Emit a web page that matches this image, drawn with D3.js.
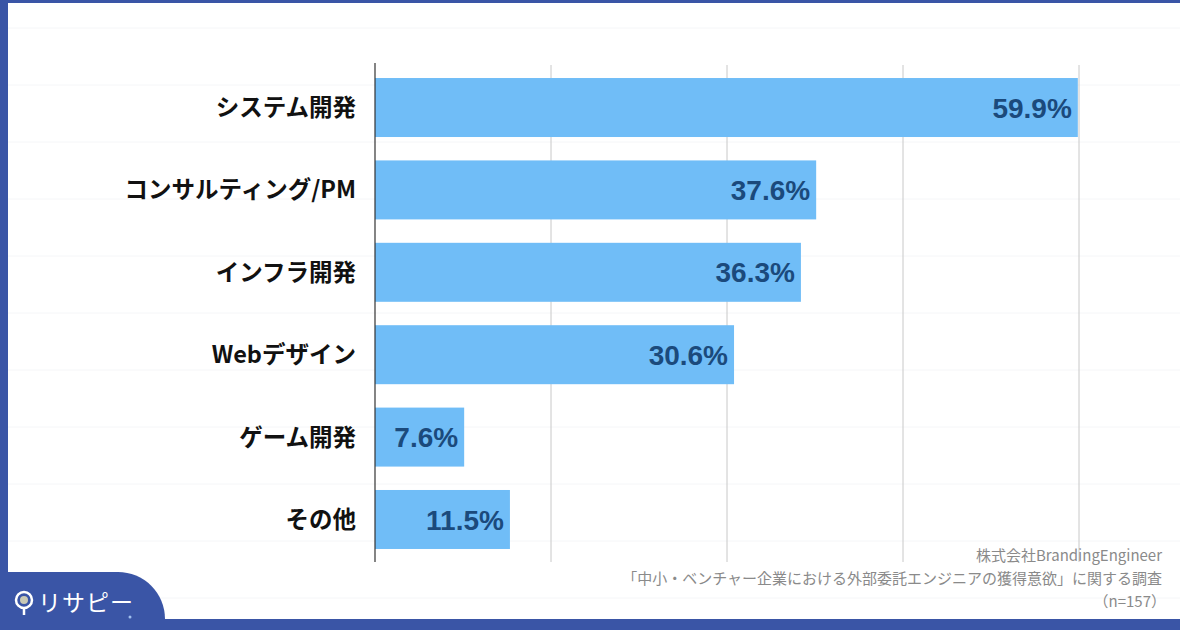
<!DOCTYPE html>
<html><head><meta charset="utf-8">
<script src="https://cdn.jsdelivr.net/npm/d3@7"></script>
<style>html,body{margin:0;padding:0;background:#fff;}svg{display:block;}</style>
</head><body>
<svg id="c" width="1180" height="630"></svg>
<script>
const categories = ["システム開発","コンサルティング/PM","インフラ開発","Webデザイン","ゲーム開発","その他"];
const values = [59.9, 37.6, 36.3, 30.6, 7.6, 11.5];
const ticks = [15, 30, 45, 60];
const sourceLines = ["株式会社BrandingEngineer","「中小・ベンチャー企業における外部委託エンジニアの獲得意欲」に関する調査","（n=157）"];

const svg = d3.select("#c");
const W = 1180, H = 630;
const blue = "#3a55a6";
const jp = "'Noto Sans CJK JP','Noto Sans',sans-serif";

svg.append("rect").attr("width",W).attr("height",H).attr("fill","#fff");

// faint background grid
const bg = svg.append("g").attr("stroke","#f5f6f8").attr("stroke-width",1);
for (let y = 28; y < 620; y += 57) bg.append("line").attr("x1",8).attr("x2",W).attr("y1",y).attr("y2",y);

const x = d3.scaleLinear().domain([0,60]).range([375,1079]);
const y = d3.scaleBand().domain(categories).range([65,562]).paddingInner(0.284).paddingOuter(0.158);

// gridlines
svg.append("g").selectAll("line").data(ticks).join("line")
  .attr("x1",d=>x(d)).attr("x2",d=>x(d)).attr("y1",65).attr("y2",562)
  .attr("stroke","#c8c8c8").attr("stroke-width",1);

// bars
svg.append("g").selectAll("rect").data(values).join("rect")
  .attr("x",x(0)).attr("y",(d,i)=>y(categories[i]))
  .attr("width",d=>x(d)-x(0)).attr("height",y.bandwidth())
  .attr("fill","#70bdf7");

// axis line
svg.append("line").attr("x1",x(0)).attr("x2",x(0)).attr("y1",63).attr("y2",562)
  .attr("stroke","#333").attr("stroke-width",1.2);

// value labels
svg.append("g").selectAll("text").data(values).join("text")
  .attr("x",d=>x(d)-6).attr("y",(d,i)=>y(categories[i])+y.bandwidth()/2)
  .attr("dy","0.36em").attr("text-anchor","end")
  .attr("font-family","'Liberation Sans',Arial,sans-serif").attr("font-weight","bold")
  .attr("font-size",28).attr("fill","#1b4a7c")
  .text(d=>d.toFixed(1)+"%");

// category labels
svg.append("g").selectAll("text").data(categories).join("text")
  .attr("x",356).attr("y",d=>y(d)+y.bandwidth()/2)
  .attr("dy","0.36em").attr("text-anchor","end")
  .attr("font-family",jp).attr("font-weight","bold")
  .attr("font-size",23.5).attr("fill","#111")
  .text(d=>d);

// source
svg.append("g").selectAll("text").data(sourceLines).join("text")
  .attr("x",(d,i)=> i===2 ? 1166 : 1162).attr("y",(d,i)=>561+i*23)
  .attr("text-anchor","end").attr("font-family",jp)
  .attr("font-size",15).attr("fill","#8a8a8a")
  .text(d=>d);

// frame
svg.append("rect").attr("x",0).attr("y",0).attr("width",W).attr("height",3).attr("fill",blue);
svg.append("rect").attr("x",0).attr("y",0).attr("width",8).attr("height",H).attr("fill",blue);
svg.append("rect").attr("x",0).attr("y",619).attr("width",W).attr("height",11).attr("fill",blue);

// logo badge
svg.append("path").attr("d","M0,572 L118,572 A47,47 0 0 1 165,619 L165,630 L0,630 Z").attr("fill",blue);
const lg = svg.append("g");
lg.append("circle").attr("cx",24).attr("cy",600).attr("r",8).attr("fill","none").attr("stroke","#fff").attr("stroke-width",2.5);
lg.append("circle").attr("cx",24).attr("cy",600).attr("r",4).attr("fill","#c9c9b5");
lg.append("line").attr("x1",24).attr("x2",24).attr("y1",608).attr("y2",615).attr("stroke","#fff").attr("stroke-width",2.5);
lg.append("text").attr("x",38).attr("y",611).attr("font-family",jp).attr("font-size",23)
  .attr("font-weight","400").attr("letter-spacing",1).attr("fill","#fff").text("リサピー");
lg.append("circle").attr("cx",130).attr("cy",617).attr("r",1.5).attr("fill","#9fc0ee");
</script>
</body></html>
